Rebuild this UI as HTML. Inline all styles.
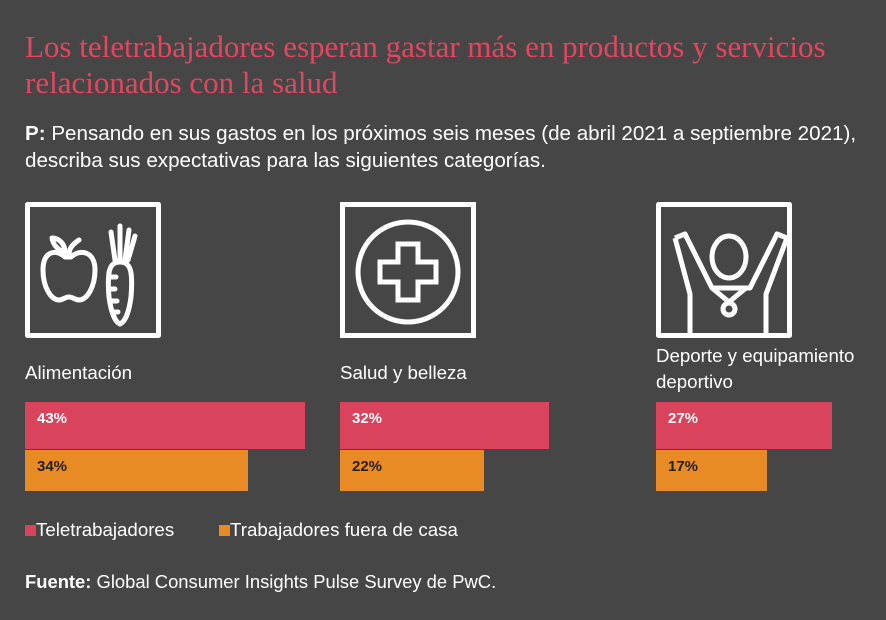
<!DOCTYPE html>
<html><head><meta charset="utf-8"><style>
body{margin:0;width:886px;height:620px;background:#464646;font-family:"Liberation Sans",sans-serif;color:#fff;position:relative;overflow:hidden}
.a{position:absolute}
.t{left:25px;top:29px;font-family:"Liberation Serif",serif;font-size:31px;line-height:36px;color:#e5455f;white-space:nowrap}
.q{left:25px;top:120px;font-size:20.6px;line-height:27px;white-space:nowrap}
.lab{font-size:18.7px;line-height:26px;white-space:nowrap}
.bar{position:absolute;height:47px;font-weight:bold;font-size:15px;padding:8px 0 0 12px;box-sizing:border-box}
.r{background:#d9435b;color:#fff}
.o{background:#e98b25;color:#222;height:41px;padding-top:8px}
.box{position:absolute;width:136px;height:136px;top:202px}
</style></head><body>
<div class="a t">Los teletrabajadores esperan gastar más en productos y servicios<br>relacionados con la salud</div>
<div class="a q"><b>P:</b> Pensando en sus gastos en los próximos seis meses (de abril 2021 a septiembre 2021),<br>describa sus expectativas para las siguientes categorías.</div>

<svg class="box" style="left:25px" viewBox="0 0 136 136" fill="none" stroke="#fff" stroke-width="5" stroke-linejoin="round" stroke-linecap="round">
<rect x="2.5" y="2.5" width="131" height="131"/>
<path d="M40 55 C30 46 18 50 18 68 C18 85 26 98 34 98 C38 98 40 95 44 95 C48 95 50 98 54 98 C62 98 70 85 70 68 C70 50 56 46 46 55 Z"/>
<path d="M44 53 C44 46 48 42 54 38"/>
<path d="M40 50 C32 48 28 42 27 36 C34 36 40 42 40 50"/>
<path d="M95 60 C84 60 82 70 84 95 C86 110 90 120 95 122 C100 120 104 110 106 95 C108 70 106 60 95 60 Z"/>
<path d="M84 75 L91 75 M84 87 L90 87 M86 99 L92 99 M88 110 L93 110"/>
<path d="M90 58 L86 30 M95 58 L95 24 M100 58 L104 28 M103 58 L110 34"/>
</svg>
<svg class="box" style="left:340px" viewBox="0 0 136 136" fill="none" stroke="#fff" stroke-width="5">
<rect x="2.5" y="2.5" width="131" height="131"/>
<circle cx="68" cy="70" r="50"/>
<path d="M58 42 H78 V60 H96 V80 H78 V98 H58 V80 H40 V60 H58 Z"/>
</svg>
<svg class="box" style="left:656px" viewBox="0 0 136 136" fill="none" stroke="#fff" stroke-width="5" stroke-linejoin="round">
<rect x="2.5" y="2.5" width="131" height="131"/>
<path d="M19 36 L29 32 L56 86 L94 86 L121 32 L131 36 L110 92 L110 134 M34 134 L34 92 L19 36"/>
<ellipse cx="73" cy="55" rx="17" ry="21"/>
<path d="M56 86 L73 100 L90 86"/>
<circle cx="73" cy="107" r="6"/>
</svg>

<div class="a lab" style="left:25px;top:360px">Alimentación</div>
<div class="a lab" style="left:340px;top:360px">Salud y belleza</div>
<div class="a lab" style="left:656px;top:343px">Deporte y equipamiento<br>deportivo</div>

<div class="bar r" style="left:25px;top:402px;width:280px">43%</div>
<div class="bar o" style="left:25px;top:450px;width:223px">34%</div>
<div class="bar r" style="left:340px;top:402px;width:209px">32%</div>
<div class="bar o" style="left:340px;top:450px;width:144px">22%</div>
<div class="bar r" style="left:656px;top:402px;width:176px">27%</div>
<div class="bar o" style="left:656px;top:450px;width:111px">17%</div>

<div class="a lab" style="left:25px;top:517px"><span style="display:inline-block;width:11px;height:11px;background:#d9435b"></span>Teletrabajadores</div>
<div class="a lab" style="left:219px;top:517px"><span style="display:inline-block;width:11px;height:11px;background:#e98b25"></span>Trabajadores fuera de casa</div>
<div class="a" style="left:25px;top:571px;font-size:18.4px;white-space:nowrap"><b>Fuente:</b> Global Consumer Insights Pulse Survey de PwC.</div>
</body></html>
